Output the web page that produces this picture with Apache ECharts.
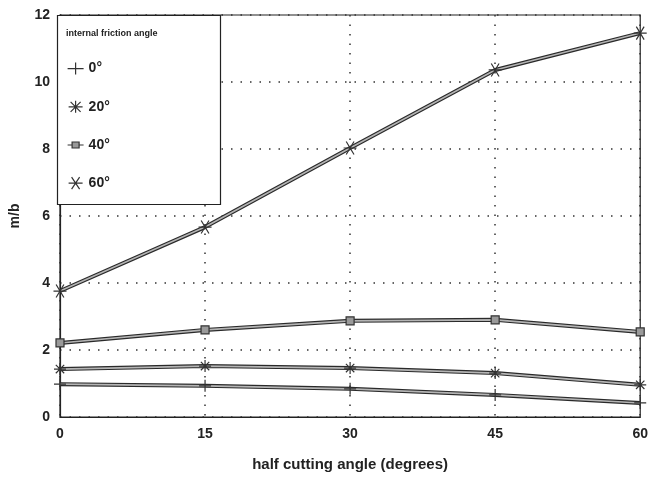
<!DOCTYPE html>
<html>
<head>
<meta charset="utf-8">
<script src="https://cdn.jsdelivr.net/npm/echarts@6/dist/echarts.min.js"></script>
<style>
  html, body { margin: 0; padding: 0; background: #fff; }
  #chart { width: 651px; height: 489px; }
</style>
</head>
<body>
<div id="chart"></div>
<script>
// half cutting angle (degrees)
var angles = [0, 15, 30, 45, 60]
var yTicks = [0, 2, 4, 6, 8, 10, 12]
var seriesNames = ['0°', '20°', '40°', '60°']
// m/b for each internal friction angle
var friction0 = [0.98, 0.93, 0.84, 0.66, 0.42]
var friction20 = [1.43, 1.52, 1.46, 1.31, 0.96]
var friction40 = [2.21, 2.6, 2.87, 2.9, 2.54]
var friction60 = [3.76, 5.67, 8.03, 10.36, 11.46]

var values = [friction0, friction20, friction40, friction60]
var symbols = [
  'path://M0,5L10,5M5,0L5,10',
  'path://M0,5L10,5M5,0L5,10M1.5,1.5L8.5,8.5M1.5,8.5L8.5,1.5',
  'rect',
  'path://M0,5L10,5M2,0.5L8,9.5M2,9.5L8,0.5'
]
// legend icons: marker with short line stubs, 16x14 box
var legendIcons = [
  'path://M0,7L16,7M8,1L8,13M8,0L8,0.01M8,14L8,13.99',
  'path://M1,7L15,7M8,1L8,13M3,2L13,12M3,12L13,2M8,0L8,0.01M8,14L8,13.99',
  'path://M0,7L4.5,7M11.5,7L16,7M4.5,4L11.5,4L11.5,10L4.5,10ZM8,0L8,0.01M8,14L8,13.99',
  'path://M1,7L15,7M4,1L12,13M4,13L12,1M8,0L8,0.01M8,14L8,13.99'
]
var symbolSizes = [12, 12, 8, 13]
var textColor = '#222'

var chart = echarts.init(document.getElementById('chart'))

var series = []
// dark outer stroke first, lighter core on top -> "double line" look
values.forEach(function (v, i) {
  series.push({
    name: seriesNames[i] + ' edge',
    type: 'line',
    data: angles.map(function (a, k) { return [a, v[k]] }),
    symbol: 'none',
    silent: true,
    lineStyle: { color: '#2a2a2a', width: 4 },
    z: 2
  })
})
values.forEach(function (v, i) {
  series.push({
    name: seriesNames[i],
    type: 'line',
    data: angles.map(function (a, k) { return [a, v[k]] }),
    symbol: symbols[i],
    symbolSize: symbolSizes[i],
    color: '#a8a8a8',
    itemStyle: { color: '#9a9a9a', borderColor: '#333', borderWidth: 1.2 },
    lineStyle: { color: '#b4b4b4', width: 1.6 },
    z: 3
  })
})

var option = {
  animation: false,
  backgroundColor: '#fff',
  grid: {
    left: 57,
    right: 10,
    top: 15,
    bottom: 72,
    show: true,
    borderColor: '#222',
    borderWidth: 1.2
  },
  xAxis: {
    type: 'value',
    min: 0,
    max: 60,
    interval: 15,
    name: 'half cutting angle (degrees)',
    nameLocation: 'middle',
    nameGap: 40,
    nameTextStyle: { color: textColor, fontSize: 15, fontWeight: 'bold', fontFamily: 'Liberation Sans' },
    axisLine: { lineStyle: { color: '#222', width: 1.2 } },
    axisTick: { show: false },
    axisLabel: { color: textColor, fontSize: 14, fontWeight: 'bold', fontFamily: 'Liberation Sans', margin: 10 },
    splitLine: { show: true, lineStyle: { color: '#333', width: 1.5, type: [1.5, 8] } }
  },
  yAxis: {
    type: 'value',
    min: yTicks[0],
    max: yTicks[yTicks.length - 1],
    interval: 2,
    name: 'm/b',
    nameLocation: 'middle',
    nameGap: 38,
    nameTextStyle: { color: textColor, fontSize: 14, fontWeight: 'bold', fontFamily: 'Liberation Sans' },
    axisLine: { show: true, lineStyle: { color: '#222', width: 1.2 } },
    axisTick: { show: false },
    axisLabel: { color: textColor, fontSize: 14, fontWeight: 'bold', fontFamily: 'Liberation Sans', margin: 10 },
    splitLine: { show: true, lineStyle: { color: '#333', width: 1.5, type: [1.5, 8] } }
  },
  legend: {
    data: seriesNames.map(function (n, i) {
      return { name: n, icon: legendIcons[i] }
    }),
    orient: 'vertical',
    left: 62,
    top: 56,
    z: 20,
    itemWidth: 16,
    itemHeight: 14,
    itemGap: 23,
    selectedMode: false,
    itemStyle: { color: '#999', borderColor: '#333', borderWidth: 1.2 },
    textStyle: { color: textColor, fontSize: 14, fontWeight: 'bold', fontFamily: 'Liberation Sans' }
  },
  graphic: [
    {
      type: 'rect',
      shape: { x: 57.5, y: 15.5, width: 163, height: 189 },
      style: { fill: '#fff', stroke: '#222', lineWidth: 1.2 },
      z: 10
    },
    {
      type: 'text',
      left: 66,
      top: 29,
      style: { text: 'internal friction angle', fill: textColor, font: 'bold 9px Liberation Sans' },
      z: 11
    }
  ],
  series: series
}

chart.setOption(option)
</script>
</body>
</html>
